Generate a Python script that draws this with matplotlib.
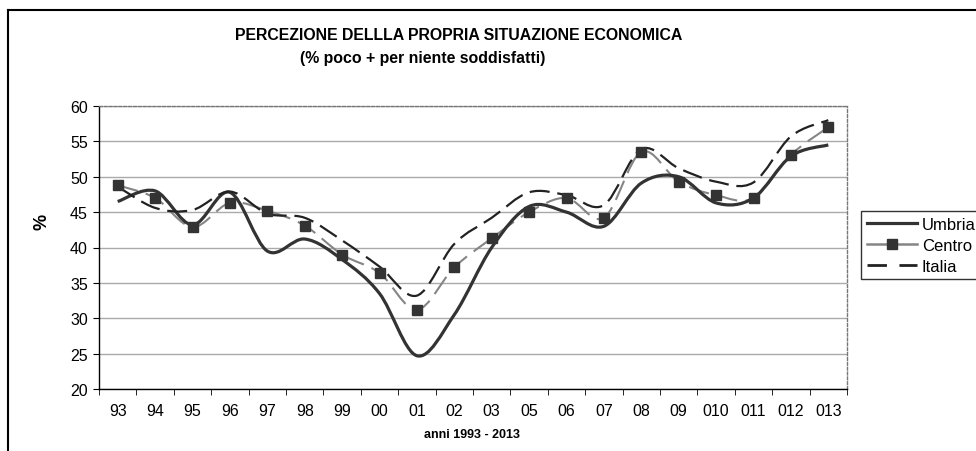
import matplotlib
matplotlib.use("Agg")
import matplotlib.pyplot as plt
from matplotlib.path import Path
from matplotlib.patches import PathPatch
from matplotlib.lines import Line2D

plt.rcParams['font.family'] = ['Liberation Sans', 'DejaVu Sans']

years = ['93', '94', '95', '96', '97', '98', '99', '00', '01', '02',
         '03', '05', '06', '07', '08', '09', '010', '011', '012', '013']
umbria = [46.5, 48.0, 43.2, 47.8, 39.5, 41.2, 38.3, 33.5, 24.7, 30.5,
          40.0, 45.8, 45.0, 43.0, 49.1, 50.0, 46.3, 47.0, 52.9, 54.5]
centro = [48.8, 47.0, 42.9, 46.3, 45.2, 43.1, 39.0, 36.4, 31.2, 37.2,
          41.3, 45.0, 47.0, 44.2, 53.5, 49.3, 47.4, 47.0, 53.1, 57.0]
italia = [48.6, 45.6, 45.3, 47.9, 44.8, 44.2, 41.0, 37.3, 33.2, 40.5,
          44.2, 47.8, 47.4, 46.0, 53.9, 51.2, 49.3, 49.2, 55.7, 58.0]


def smooth_path(ys):
    # excel-like smoothed line: catmull-rom segments as cubic bezier
    xs = list(range(len(ys)))
    pts = list(zip(xs, ys))
    verts = [pts[0]]
    codes = [Path.MOVETO]
    n = len(pts)
    for i in range(n - 1):
        p0 = pts[i - 1] if i > 0 else pts[i]
        p1 = pts[i]
        p2 = pts[i + 1]
        p3 = pts[i + 2] if i + 2 < n else pts[i + 1]
        c1 = (p1[0] + (p2[0] - p0[0]) / 6, p1[1] + (p2[1] - p0[1]) / 6)
        c2 = (p2[0] - (p3[0] - p1[0]) / 6, p2[1] - (p3[1] - p1[1]) / 6)
        verts += [c1, c2, p2]
        codes += [Path.CURVE4] * 3
    return Path(verts, codes)


fig = plt.figure(figsize=(9.76, 4.52), dpi=100)
ax = fig.add_axes([99 / 976, 1 - 390 / 452, 748 / 976, 283 / 452])

dark = '#333333'
grey = '#858585'
it_dash = (0, (9, 3.5))
ce_dash = (0, (10, 4))

ax.add_patch(PathPatch(smooth_path(centro), fill=False, edgecolor=grey,
                       lw=1.5, linestyle=ce_dash, zorder=3))
ax.plot(range(len(centro)), centro, linestyle='none', marker='s',
        markersize=6.5, color=dark, zorder=5)
ax.add_patch(PathPatch(smooth_path(umbria), fill=False, edgecolor=dark,
                       lw=2.3, zorder=4))
ax.add_patch(PathPatch(smooth_path(italia), fill=False, edgecolor='#222222',
                       lw=1.6, linestyle=it_dash, zorder=4))

ax.set_xlim(-0.5, len(years) - 0.5)
ax.set_ylim(20, 60)
ax.set_yticks(range(20, 61, 5))
ax.set_xticks(range(len(years)))
ax.set_xticklabels(years)
ax.set_xticks([i - 0.5 for i in range(len(years) + 1)], minor=True)
ax.tick_params(axis='x', which='major', length=0, pad=10, labelsize=11.5)
ax.tick_params(axis='x', which='minor', length=4, direction='out', color='black')
ax.tick_params(axis='y', length=4, direction='out', labelsize=11.5, pad=4)

ax.yaxis.grid(True, color='#aaaaaa', lw=1)
ax.set_axisbelow(True)
for s in ['top', 'right']:
    ax.spines[s].set_linestyle((0, (2, 1.5)))
    ax.spines[s].set_color('#777777')
    ax.spines[s].set_linewidth(1)
for s in ['left', 'bottom']:
    ax.spines[s].set_linestyle((0, (2, 1)))
    ax.spines[s].set_color('black')
    ax.spines[s].set_linewidth(1)

fig.text(42 / 976, 1 - 222 / 452, '%', rotation=90, fontsize=13,
         fontweight='bold', ha='center', va='center')
fig.text(472 / 976, 1 - 435 / 452, 'anni 1993 - 2013', fontsize=9,
         fontweight='bold', ha='center', va='center')
fig.text(459 / 976, 1 - 35 / 452, 'PERCEZIONE DELLLA PROPRIA SITUAZIONE ECONOMICA',
         fontsize=11.4, fontweight='bold', ha='center', va='center')
fig.text(423 / 976, 1 - 59 / 452, '(% poco + per niente soddisfatti)',
         fontsize=11.4, fontweight='bold', ha='center', va='center')

# outer chart frame (top and left edges visible)
fig.add_artist(Line2D([8 / 976, 1], [1 - 11 / 452, 1 - 11 / 452],
                      transform=fig.transFigure, color='black', lw=1.5))
fig.add_artist(Line2D([8 / 976, 8 / 976], [0, 1 - 11 / 452],
                      transform=fig.transFigure, color='black', lw=1.5))

handles = [
    Line2D([], [], color=dark, lw=2.3),
    Line2D([], [], color=grey, lw=1.8, marker='s', markersize=6.5,
           markerfacecolor=dark, markeredgecolor=dark),
    Line2D([], [], color='#222222', lw=2, linestyle=(0, (7, 4.5))),
]
leg = fig.legend(handles, ['Umbria', 'Centro', 'Italia'],
                 loc='upper left', bbox_to_anchor=(861 / 976, 1 - 212 / 452),
                 fontsize=12, frameon=True, fancybox=False, handlelength=3.0,
                 handletextpad=0.3, borderpad=0.35, labelspacing=0.35,
                 borderaxespad=0)
leg.get_frame().set_edgecolor('black')
leg.get_frame().set_linewidth(1)

fig.savefig('out.png', dpi=100)
